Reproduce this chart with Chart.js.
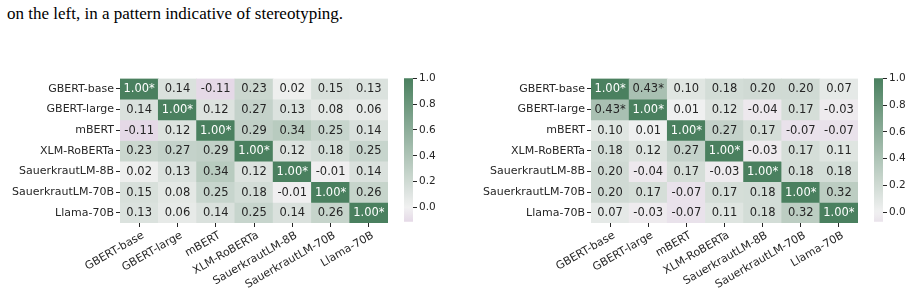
<!DOCTYPE html>
<html>
<head>
<meta charset="utf-8">
<script src="https://cdn.jsdelivr.net/npm/chart.js@4.4.1/dist/chart.umd.min.js"></script>
<style>
  html, body { margin:0; padding:0; background:#fff; width:914px; height:296px; overflow:hidden; }
  canvas { position:absolute; }
  #caption { position:absolute; left:7px; top:4px; font-family:"Liberation Serif", serif; font-size:17px; color:#000; white-space:nowrap; line-height:20px; }
</style>
</head>
<body>
<div id="caption">on the left, in a pattern indicative of stereotyping.</div>
<canvas id="hmL" width="400" height="226" style="left:0px;top:70px;"></canvas>
<canvas id="cbL" width="60" height="160" style="left:395px;top:70px;"></canvas>
<canvas id="hmR" width="400" height="226" style="left:470px;top:70px;"></canvas>
<canvas id="cbR" width="49" height="160" style="left:865px;top:70px;"></canvas>
<script>
// ---------- data ----------
const models = ["GBERT-base", "GBERT-large", "mBERT", "XLM-RoBERTa", "SauerkrautLM-8B", "SauerkrautLM-70B", "Llama-70B"];

const leftValues = [
  [1.00, 0.14, -0.11, 0.23, 0.02, 0.15, 0.13],
  [0.14, 1.00, 0.12, 0.27, 0.13, 0.08, 0.06],
  [-0.11, 0.12, 1.00, 0.29, 0.34, 0.25, 0.14],
  [0.23, 0.27, 0.29, 1.00, 0.12, 0.18, 0.25],
  [0.02, 0.13, 0.34, 0.12, 1.00, -0.01, 0.14],
  [0.15, 0.08, 0.25, 0.18, -0.01, 1.00, 0.26],
  [0.13, 0.06, 0.14, 0.25, 0.14, 0.26, 1.00]
];
const leftSig = [
  [1,0,0,0,0,0,0],
  [0,1,0,0,0,0,0],
  [0,0,1,0,0,0,0],
  [0,0,0,1,0,0,0],
  [0,0,0,0,1,0,0],
  [0,0,0,0,0,1,0],
  [0,0,0,0,0,0,1]
];
const rightValues = [
  [1.00, 0.43, 0.10, 0.18, 0.20, 0.20, 0.07],
  [0.43, 1.00, 0.01, 0.12, -0.04, 0.17, -0.03],
  [0.10, 0.01, 1.00, 0.27, 0.17, -0.07, -0.07],
  [0.18, 0.12, 0.27, 1.00, -0.03, 0.17, 0.11],
  [0.20, -0.04, 0.17, -0.03, 1.00, 0.18, 0.18],
  [0.20, 0.17, -0.07, 0.17, 0.18, 1.00, 0.32],
  [0.07, -0.03, -0.07, 0.11, 0.18, 0.32, 1.00]
];
const rightSig = [
  [1,1,0,0,0,0,0],
  [1,1,0,0,0,0,0],
  [0,0,1,0,0,0,0],
  [0,0,0,1,0,0,0],
  [0,0,0,0,1,0,0],
  [0,0,0,0,0,1,0],
  [0,0,0,0,0,0,1]
];
const colorbarTicks = [0.0, 0.2, 0.4, 0.6, 0.8, 1.0];
const leftRange = [-0.11, 1.0];
const rightRange = [-0.07, 1.0];

// ---------- colour map ----------
const NEG = [219, 198, 223];   // value -0.2
const MID = [241, 241, 241];   // value 0
const POS = [74, 128, 95];     // value 1
function cmap(v) {
  let a, b, t;
  if (v < 0) { a = MID; b = NEG; t = Math.min(1, -v / 0.2); }
  else { a = MID; b = POS; t = Math.min(1, v); }
  const c = a.map((x, k) => Math.round(x + (b[k] - x) * t));
  return `rgb(${c[0]},${c[1]},${c[2]})`;
}

const FAM = "'DejaVu Sans', sans-serif";
const TICKFONT = { family: FAM, size: 11 };
const CBFONT = { family: FAM, size: 10.5 };
const ANNFONT = { family: FAM, size: 11.5 };
const TXT = '#262626';

function heatmap(id, values, sig, yWidth) {
  const datasets = values.map((row, r) => ({
    data: row.map(() => [r, r + 1]),
    backgroundColor: row.map(v => cmap(v)),
    borderWidth: 0,
    barPercentage: 1,
    categoryPercentage: 1,
    grouped: false
  }));
  const annot = {
    id: 'annot',
    afterDatasetsDraw(chart) {
      const ctx = chart.ctx, xs = chart.scales.x, ys = chart.scales.y;
      ctx.save();
      ctx.font = `${ANNFONT.size}px ${ANNFONT.family}`;
      ctx.textAlign = 'center';
      ctx.textBaseline = 'middle';
      values.forEach((row, r) => row.forEach((v, c) => {
        const txt = v.toFixed(2) + (sig[r][c] ? '*' : '');
        ctx.fillStyle = v > 0.6 ? '#ffffff' : TXT;
        ctx.fillText(txt, xs.getPixelForValue(c), ys.getPixelForValue(r + 0.5) + 0.5);
      }));
      ctx.restore();
    }
  };
  new Chart(document.getElementById(id), {
    type: 'bar',
    data: { labels: models, datasets },
    plugins: [annot],
    options: {
      responsive: false, animation: false, devicePixelRatio: 1,
      layout: { padding: { top: 6, right: 12, left: 0, bottom: 0 } },
      plugins: { legend: { display: false }, tooltip: { enabled: false } },
      scales: {
        x: {
          type: 'category', offset: true,
          grid: { offset: false, drawOnChartArea: false, tickLength: 4, tickColor: TXT, lineWidth: 1 },
          border: { display: false },
          ticks: { minRotation: 30, maxRotation: 30, autoSkip: false, padding: 2, labelOffset: 4, color: TXT, font: TICKFONT },
          afterFit(s) { s.height = 73; }
        },
        y: {
          type: 'linear', min: 0, max: 7, reverse: true,
          afterBuildTicks(s) { s.ticks = models.map((m, i) => ({ value: i + 0.5 })); },
          grid: { drawOnChartArea: false, tickLength: 4, tickColor: TXT, lineWidth: 1 },
          border: { display: false },
          ticks: { callback: (v, i) => models[i], color: TXT, font: TICKFONT, padding: 2 },
          afterFit(s) { s.width = yWidth; }
        }
      }
    }
  });
}

function colorbar(id, range, yWidth) {
  new Chart(document.getElementById(id), {
    type: 'bar',
    data: {
      labels: ['cb'],
      datasets: [{
        data: [range],
        borderWidth: 0, barPercentage: 1, categoryPercentage: 1,
        backgroundColor(context) {
          const area = context.chart.chartArea;
          if (!area) return cmap(0);
          const g = context.chart.ctx.createLinearGradient(0, area.bottom, 0, area.top);
          const n = 40;
          for (let k = 0; k <= n; k++) {
            const v = range[0] + (range[1] - range[0]) * k / n;
            g.addColorStop(k / n, cmap(v));
          }
          return g;
        }
      }]
    },
    options: {
      responsive: false, animation: false, devicePixelRatio: 1,
      layout: { padding: { top: 6, right: 0, left: 9, bottom: 7 } },
      plugins: { legend: { display: false }, tooltip: { enabled: false } },
      scales: {
        x: { display: false },
        y: {
          position: 'right', min: range[0], max: range[1],
          afterBuildTicks(s) { s.ticks = colorbarTicks.map(v => ({ value: v })); },
          grid: { drawOnChartArea: false, tickLength: 4, tickColor: TXT, lineWidth: 1 },
          border: { display: false },
          ticks: { callback: v => v.toFixed(1), color: TXT, font: CBFONT, padding: 2 },
          afterFit(s) { s.width = yWidth; }
        }
      }
    }
  });
}

heatmap('hmL', leftValues, leftSig, 120);
colorbar('cbL', leftRange, 42);
heatmap('hmR', rightValues, rightSig, 121);
colorbar('cbR', rightRange, 31);
</script>
</body>
</html>
